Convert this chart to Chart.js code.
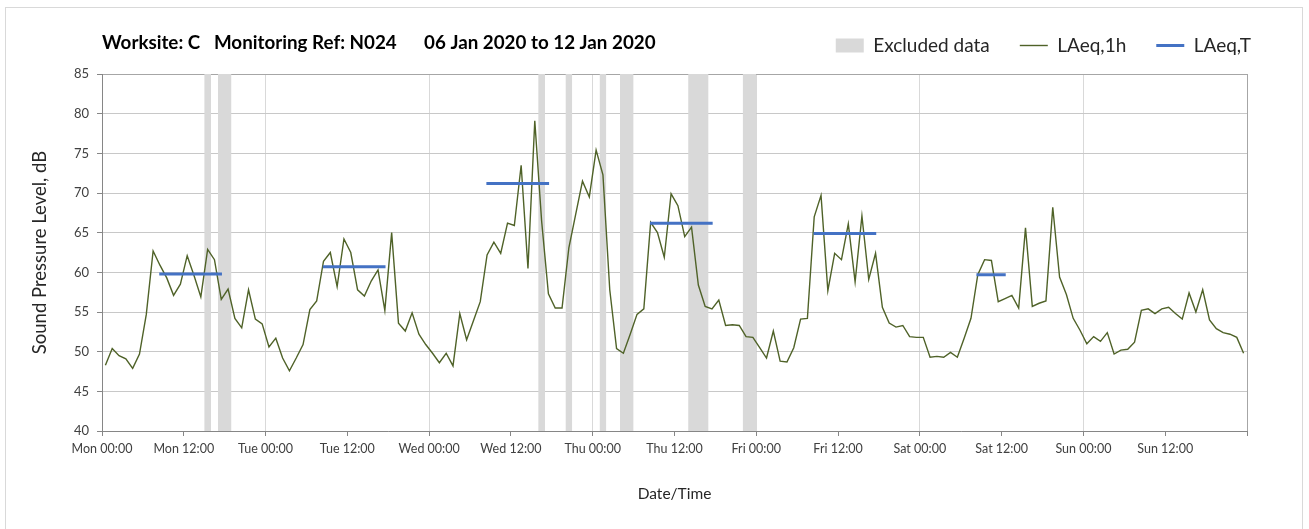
<!DOCTYPE html>
<html>
<head>
<meta charset="utf-8">
<script src="https://cdn.jsdelivr.net/npm/chart.js@4.4.1/dist/chart.umd.min.js"></script>
<style>
  body { margin: 0; background: #fff; }
  #wrap { position: relative; width: 1309px; height: 529px; }
  #frame { position: absolute; left: 5px; top: 7px; width: 1298px; height: 530px; border: 1px solid #d9d9d9; box-sizing: border-box; }
  canvas { position: absolute; left: 0; top: 0; }
</style>
</head>
<body>
<div id="wrap">
  <div id="frame"></div>
  <canvas id="noise-chart" width="1309" height="529"></canvas>
</div>
<script>
// hourly LAeq,1h, Mon 00:00 -> Sun 23:00 (one value per hour)
const hourlyLevels = [
  48.3, 50.4, 49.5, 49.1, 47.9, 49.7, 54.7, 62.7, 60.9, 59.3, 57.1, 58.5,
  62.1, 59.6, 56.9, 62.9, 61.6, 56.6, 57.9, 54.2, 53.0, 57.8, 54.1, 53.5,
  50.6, 51.7, 49.2, 47.6, 49.2, 50.9, 55.3, 56.4, 61.4, 62.5, 58.2, 64.2,
  62.5, 57.8, 57.0, 58.9, 60.3, 55.2, 65.0, 53.6, 52.6, 54.9, 52.2, 50.9,
  49.8, 48.6, 49.8, 48.2, 54.8, 51.5, 53.9, 56.3, 62.2, 63.8, 62.4, 66.2,
  65.9, 73.5, 60.5, 79.1, 66.5, 57.3, 55.5, 55.5, 63.1, 67.3, 71.5, 69.5,
  75.4, 72.3, 57.8, 50.4, 49.8, 52.2, 54.7, 55.4, 66.3, 65.0, 61.9, 69.9,
  68.4, 64.5, 65.7, 58.4, 55.7, 55.4, 56.5, 53.3, 53.4, 53.3, 51.9, 51.8,
  50.5, 49.2, 52.6, 48.8, 48.7, 50.5, 54.1, 54.2, 67.0, 69.7, 57.7, 62.4,
  61.6, 66.1, 58.8, 67.1, 59.1, 62.4, 55.6, 53.6, 53.1, 53.3, 51.9, 51.8,
  51.8, 49.3, 49.4, 49.3, 49.9, 49.3, 51.7, 54.2, 59.7, 61.6, 61.5, 56.3,
  56.7, 57.1, 55.5, 65.6, 55.7, 56.1, 56.4, 68.2, 59.4, 57.2, 54.2, 52.7,
  51.0, 51.9, 51.3, 52.4, 49.7, 50.2, 50.3, 51.2, 55.2, 55.4, 54.8, 55.4,
  55.6, 54.8, 54.1, 57.4, 55.0, 57.8, 54.0, 52.9, 52.4, 52.2, 51.8, 49.8
];

// LAeq,T periods (hours from Mon 00:00)
const periodStart = [8.4, 32.4, 56.4, 80.4, 104.4, 128.3];
const periodEnd   = [17.6, 41.6, 65.6, 89.6, 113.6, 132.6];
const periodLevel = [59.8, 60.7, 71.2, 66.2, 64.9, 59.7];

// excluded data windows (hours from Mon 00:00)
const excludedStart = [15, 17, 64, 68, 73, 76, 86, 94];
const excludedEnd   = [16, 19, 65, 69, 74, 78, 89, 96];

const tickLabels = ['Mon 00:00', 'Mon 12:00', 'Tue 00:00', 'Tue 12:00', 'Wed 00:00', 'Wed 12:00',
  'Thu 00:00', 'Thu 12:00', 'Fri 00:00', 'Fri 12:00', 'Sat 00:00', 'Sat 12:00', 'Sun 00:00', 'Sun 12:00'];

const chartTitle = 'Worksite: C   Monitoring Ref: N024      06 Jan 2020 to 12 Jan 2020';

const FONT = 'Lato, "Open Sans", sans-serif';

// build line data
let hourlyPoints = hourlyLevels.map((v, i) => ({x: i + 0.5, y: v}));

let periodPoints = [];
periodStart.forEach((s, i) => {
    periodPoints.push({x: s, y: periodLevel[i]});
    periodPoints.push({x: periodEnd[i], y: periodLevel[i]});
    periodPoints.push({x: periodEnd[i], y: null});
});

let excludedPoints = [];
excludedStart.forEach((s, i) => {
    excludedPoints.push({x: s, y: 85});
    excludedPoints.push({x: excludedEnd[i], y: 85});
    excludedPoints.push({x: excludedEnd[i], y: null});
});

// title drawn on the same row as the legend
const sideTitle = {
    id: 'sideTitle',
    afterLayout(chart) {
        // legend sits a bit higher and reaches further right than chart.js puts it
        const lg = chart.legend;
        lg.top -= 9;
        lg.bottom -= 9;
        lg.right = 1281;
    },
    afterDraw(chart) {
        const ctx = chart.ctx;
        ctx.save();
        ctx.font = 'bold 18.8px ' + FONT;
        ctx.fillStyle = '#000';
        ctx.textBaseline = 'middle';
        ctx.fillText(chartTitle, chart.chartArea.left, 43);
        ctx.restore();
    }
};

const ctx = document.getElementById('noise-chart').getContext('2d');

let chart = new Chart(ctx, {
    type: 'line',
    data: {
        datasets: [{
            label: 'Excluded data',
            data: excludedPoints,
            borderWidth: 0,
            borderColor: 'rgba(0,0,0,0)',
            backgroundColor: '#d9d9d9',
            fill: 'start',
            pointRadius: 0,
            spanGaps: false,
            pointStyle: 'rect',
            order: 3
        }, {
            label: 'LAeq,1h',
            data: hourlyPoints,
            borderColor: '#4f6228',
            backgroundColor: '#4f6228',
            borderWidth: 1.4,
            pointRadius: 0,
            tension: 0,
            pointStyle: 'line',
            order: 2
        }, {
            label: 'LAeq,T',
            data: periodPoints,
            borderColor: '#4472c4',
            backgroundColor: '#4472c4',
            borderWidth: 3,
            pointRadius: 0,
            spanGaps: false,
            pointStyle: 'line',
            order: 1
        }]
    },
    options: {
        responsive: false,
        animation: false,
        layout: {
            padding: {left: 25, right: 62, top: 15, bottom: 20}
        },
        plugins: {
            title: {display: false},
            tooltip: {enabled: false},
            legend: {
                position: 'top',
                align: 'end',
                labels: {
                    usePointStyle: true,
                    pointStyleWidth: 28,
                    boxWidth: 28,
                    boxHeight: 14,
                    padding: 30,
                    color: '#262626',
                    font: {family: FONT, size: 19},
                    sort: (a, b) => a.datasetIndex - b.datasetIndex
                }
            }
        },
        scales: {
            x: {
                type: 'linear',
                min: 0,
                max: 168,
                afterFit: (scale) => { scale.height = 78; },
                ticks: {
                    stepSize: 12,
                    autoSkip: false,
                    maxRotation: 0,
                    padding: 5,
                    color: '#404040',
                    font: {family: FONT, size: 12.5},
                    callback: (v) => tickLabels[v / 12] || ''
                },
                grid: {
                    color: (c) => {
                        let v = c.tick ? c.tick.value : 0;
                        if (v === 168) return '#a6a6a6';
                        return v % 24 === 0 ? '#d9d9d9' : 'rgba(0,0,0,0)';
                    },
                    tickColor: '#868686',
                    tickLength: 5,
                    lineWidth: 1
                },
                border: {display: true, color: '#868686'},
                title: {
                    display: true,
                    text: 'Date/Time',
                    color: '#262626',
                    font: {family: FONT, size: 15.5},
                    padding: {top: 0, bottom: 6}
                }
            },
            y: {
                min: 40,
                max: 85,
                afterFit: (scale) => { scale.width = 77; },
                ticks: {
                    stepSize: 5,
                    padding: 8,
                    color: '#404040',
                    font: {family: FONT, size: 13}
                },
                grid: {
                    color: (c) => (c.tick && c.tick.value === 85) ? '#a6a6a6' : '#c8c8c8',
                    tickColor: '#868686',
                    tickLength: 5
                },
                border: {display: true, color: '#868686'},
                title: {
                    display: true,
                    text: 'Sound Pressure Level, dB',
                    color: '#262626',
                    font: {family: FONT, size: 18.5},
                    padding: {top: 4, bottom: 0}
                }
            }
        }
    },
    plugins: [sideTitle]
});
</script>
</body>
</html>
